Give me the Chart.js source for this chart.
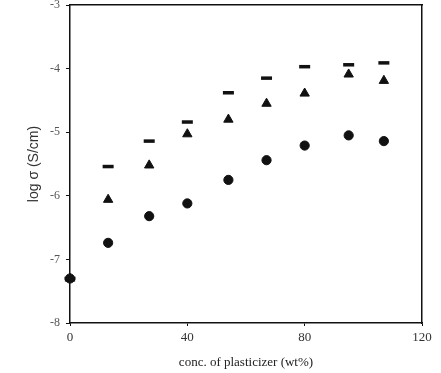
<!DOCTYPE html>
<html><head><meta charset="utf-8">
<script src="https://cdn.jsdelivr.net/npm/chart.js@4"></script>
<style>html,body{margin:0;padding:0;background:#fff}canvas{display:block}</style>
</head><body>
<canvas id="c" width="441" height="373"></canvas>
<script>
const concX = [0, 13, 27, 40, 54, 67, 80, 95, 107];
const circleY = [-7.30, -6.74, -6.32, -6.12, -5.75, -5.44, -5.21, -5.05, -5.14];
const triangleY = [-7.30, -6.06, -5.52, -5.03, -4.80, -4.55, -4.39, -4.09, -4.19];
const dashY = [-7.30, -5.54, -5.14, -4.84, -4.38, -4.15, -3.97, -3.94, -3.91];
const xTicks = [0, 40, 80, 120];
const yTicks = [-8, -7, -6, -5, -4, -3];

function pts(ys){ return concX.map((x,i)=>({x:x, y:ys[i]})); }

const serif = "'Liberation Serif','DejaVu Serif',serif";
const sans = "'Liberation Sans',Arial,sans-serif";

new Chart(document.getElementById('c'), {
  type: 'scatter',
  data: {
    datasets: [
      {label:'circle', data: pts(circleY), pointStyle:'circle', radius:4.6, backgroundColor:'#111', borderColor:'#111', borderWidth:1, clip:false},
      {label:'triangle', data: pts(triangleY), pointStyle:'triangle', radius:5.4, backgroundColor:'#111', borderColor:'#111', borderWidth:1, clip:false},
      {label:'dash', data: pts(dashY), pointStyle:'line', radius:5.5, backgroundColor:'#111', borderColor:'#111', borderWidth:3.5, clip:false}
    ]
  },
  options: {
    responsive:false, animation:false,
    layout:{autoPadding:false, padding:{left:0, top:5, right:19, bottom:0}},
    plugins:{legend:{display:false}, tooltip:{enabled:false}},
    scales:{
      x:{
        type:'linear', position:'bottom', min:0, max:120,
        afterBuildTicks: s => { s.ticks = xTicks.map(v=>({value:v})); },
        afterFit: s => { s.height = 50; },
        border:{color:'#111', width:1.5},
        grid:{drawOnChartArea:false, tickLength:3, color:'#111'},
        ticks:{font:{family:serif, size:13}, color:'#333', padding:4, maxRotation:0},
        title:{display:true, text:'conc. of plasticizer (wt%)', font:{family:serif, size:13}, color:'#222', padding:{top:0,bottom:3}}
      },
      y:{
        type:'linear', position:'left', min:-8, max:-3,
        afterBuildTicks: s => { s.ticks = yTicks.map(v=>({value:v})); },
        afterFit: s => { s.width = 70; s.paddingTop = 0; s.paddingBottom = 0; },
        border:{color:'#111', width:1.5},
        grid:{drawOnChartArea:false, tickLength:4, color:'#111'},
        ticks:{font:{family:serif, size:12}, color:'#555', padding:6},
        title:{display:true, text:'log σ (S/cm)', font:{family:sans, size:14}, color:'#333', padding:{top:26,bottom:0}}
      },
      x2:{
        type:'linear', position:'top', min:0, max:120,
        afterFit: s => { s.height = 0; },
        border:{color:'#111', width:1.5},
        grid:{drawOnChartArea:false, drawTicks:false},
        ticks:{display:false}
      },
      y2:{
        type:'linear', position:'right', min:-8, max:-3,
        afterFit: s => { s.width = 0; s.paddingTop = 0; s.paddingBottom = 0; },
        border:{color:'#111', width:1.5},
        grid:{drawOnChartArea:false, drawTicks:false},
        ticks:{display:false}
      }
    }
  }
});
</script>
</body></html>
